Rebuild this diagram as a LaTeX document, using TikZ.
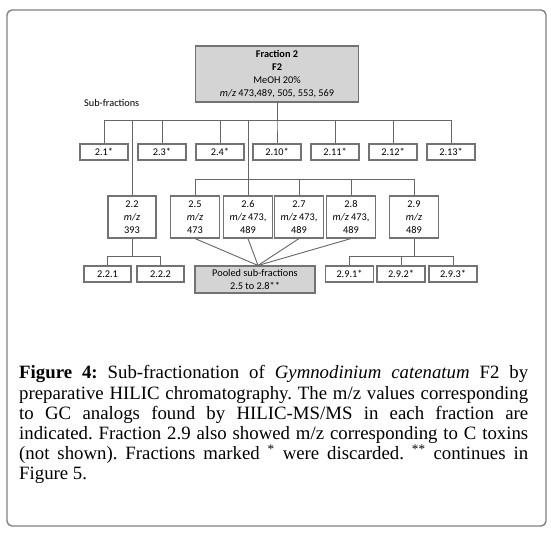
\documentclass[tikz,border=0pt]{standalone}
\usepackage{fontspec}
\setmainfont{Liberation Serif}
\newfontfamily\calib{Carlito}
\frenchspacing
\begin{document}
\begin{tikzpicture}[x=1pt,y=-1pt]
    \tikzset{s/.style={draw=black!55,line width=1.1pt,fill=white,rectangle,inner sep=0pt,minimum width=48pt,minimum height=16pt,align=center,font=\calib\fontsize{10.3}{12.8}\selectfont},
        t/.style={s,minimum height=42pt},
        g/.style={s,fill=black!17},
        l/.style={draw=black!60,line width=0.9pt}}
    \useasboundingbox(0,0)rectangle(551,533);
    \draw[black!50,line width=1.4pt,rounded corners=5pt](7,10)rectangle(546,526);
    \coordinate(bus1)at(0,120);\coordinate(bus2)at(0,179);\coordinate(bus3)at(0,256);\coordinate(bus4)at(0,252);
    \path(277,74)node[g,minimum width=163pt,minimum height=56pt](F2){\textbf{Fraction 2}\\\textbf{F2}\\MeOH 20\%\\\textit{m/z} 473,489, 505, 553, 569};
    \path(84,103)node[anchor=west,inner sep=0pt,font=\calib\fontsize{10.3}{12.8}\selectfont](sub){Sub-fractions};
    \foreach \n/\x/\t in {21/104/2.1,23/162/2.3,24/220/2.4,210/277/2.10,211/335/2.11,212/393/2.12,213/451/2.13}
    \path(\x,152)node[s](b\n){\t*};
    \path(132,217)node[t](b22){2.2\\\textit{m/z}\\393}
        (195,217)node[t,minimum width=49pt](b25){2.5\\\textit{m/z}\\473}
        (248,217)node[t,minimum width=49pt](b26){2.6\\\textit{m/z} 473,\\489}
        (299,217)node[t,minimum width=49pt](b27){2.7\\\textit{m/z} 473,\\489}
        (351,217)node[t,minimum width=49pt](b28){2.8\\\textit{m/z} 473,\\489}
        (414,217)node[t,minimum width=49pt](b29){2.9\\\textit{m/z}\\489};
    \path(107.5,274)node[s,minimum width=47pt](b221){2.2.1}
        (160.5,274)node[s,minimum width=47pt](b222){2.2.2}
        (255,279.5)node[g,minimum width=120pt,minimum height=27pt](pool){Pooled sub-fractions\\2.5 to 2.8**}
        (349.5,274)node[s](b291){2.9.1*}
        (401,274)node[s](b292){2.9.2*}
        (453,274)node[s](b293){2.9.3*};
    \foreach \y in {b21,b23,b24,b210,b211,b212,b213,b22,b26}
    \draw[l](F2.south)--(F2.south|-bus1)-|(\y.north);
    \foreach \y in {b25,b27,b28,b29}
    \draw[l](F2.south)--(F2.south|-bus1)-|(b26.north|-bus2)-|(\y.north);
    \foreach \x/\y in {b22/b221,b22/b222,b29/b291,b29/b292,b29/b293}
    \draw[l](\x.south)--(\x.south|-bus3)-|(\y.north);
    \foreach \y in {b25,b26,b27,b28}
    \draw[l](\y.south)--([xshift=3pt]pool.north);
    %% caption
    \path(19,365.5)node[anchor=north west,inner sep=0pt,text width=509pt,align=justify,font=\fontsize{18.8}{20.2}\selectfont](cap){\textbf{Figure 4:} Sub-fractionation of \textit{Gymnodinium catenatum} F2 by\linebreak preparative HILIC chromatography. The m/z values corresponding\linebreak to GC analogs found by HILIC-MS/MS in each fraction are\linebreak indicated. Fraction 2.9 also showed m/z corresponding to C toxins\linebreak (not shown). Fractions marked \textsuperscript{*} were discarded. \textsuperscript{**} continues in\linebreak Figure 5.};
\end{tikzpicture}
\end{document}
